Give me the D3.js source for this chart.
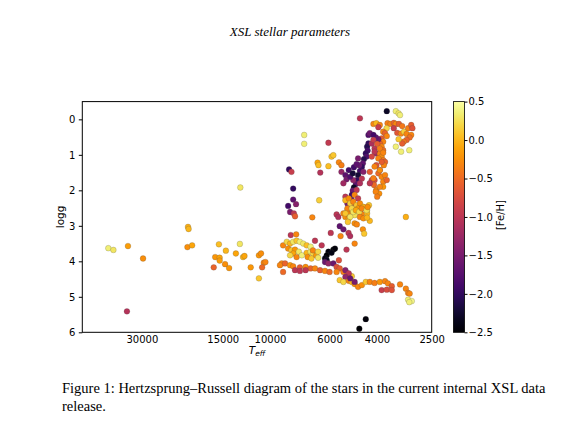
<!DOCTYPE html>
<html>
<head>
<meta charset="utf-8">
<script src="https://cdn.jsdelivr.net/npm/d3@7"></script>
<style>
  body { margin: 0; background: #fff; }
</style>
</head>
<body>
<div id="chart"></div>
<script>
// Tick labels
const xTickValues = [30000, 15000, 10000, 6000, 4000, 2500];
const yTickValues = [0, 1, 2, 3, 4, 5, 6];
const cbTickValues = [0.5, 0, -0.5, -1, -1.5, -2, -2.5];

// Stars as [Teff, logg, [Fe/H]]
const hotStars = [
  [40000, 3.63, 0.35], [38300, 3.68, 0.3], [33800, 3.57, -0.15], [29700, 3.92, -0.25], [34100, 5.41, -1.05],
  [20200, 3.03, -0.05], [20100, 3.09, 0.0], [20300, 3.6, -0.25], [19500, 3.55, -0.1], [12900, 1.92, 0.3],
  [15500, 3.52, 0.05], [16000, 3.88, -0.2], [15400, 3.9, -0.1], [15400, 3.98, -0.15], [14600, 3.7, 0.0],
  [16200, 4.17, -0.55], [14700, 4.08, -0.25], [14200, 4.19, -0.2], [13400, 3.78, -0.1], [12950, 3.51, 0.3],
  [12600, 3.88, 0.0], [12450, 3.85, -0.1], [11800, 4.17, -0.2], [11000, 3.83, -0.2], [10550, 4.04, -0.3],
  [10700, 4.17, -0.5], [11000, 4.48, 0.1], [10800, 3.78, -0.25], [10400, 4.02, -0.3]
];

const scatteredStars = [
  [8490, 1.41, -2.0], [8320, 1.48, -0.9], [8200, 1.95, -2.0], [8200, 2.26, -1.7], [8000, 2.39, -1.4],
  [8560, 2.44, -1.9], [8420, 2.61, -1.5], [8150, 2.65, -1.0], [8070, 2.73, -0.6],
  [7460, 0.44, 0.35], [7460, 0.69, 0.35], [6060, 0.66, -0.95], [6500, 1.5, -1.05], [5420, 1.48, -1.3],
  [5540, 1.21, -0.3], [5420, 1.29, -0.35], [5900, 1.05, 0.05], [5810, 1.01, 0.1], [6060, 1.32, 0.05],
  [6650, 1.22, -0.1], [6600, 1.29, 0.05], [6560, 2.28, 0.15], [6960, 2.76, -0.3], [4625, -0.03, -1.0],
  [3120, 2.75, -0.05], [8370, 3.26, -1.0], [7990, 3.24, -0.3], [6800, 3.42, -1.0], [6420, 3.55, -1.0],
  [5190, 3.67, -1.0], [5650, 2.68, -1.0], [5570, 2.75, -1.1], [5500, 3.01, -1.7], [5330, 3.1, -1.6],
  [5940, 3.2, -1.0], [5460, 3.29, -0.3], [5100, 3.2, -1.0], [5030, 3.29, -1.1], [4840, 3.5, -0.3],
  [4840, 2.93, -0.25], [4750, 2.96, -0.3], [4510, 3.1, -0.25], [4460, 3.22, 0.1], [4250, 2.86, 0.0],
  [4400, 5.63, -2.45], [4650, 5.9, -2.5]
];

const upperGiants = [
  [3675, -0.23, -2.3], [3400, -0.23, 0.35], [3320, -0.17, 0.3], [3280, -0.12, 0.35],
  [4120, 0.13, -0.3], [4020, 0.11, 0.0], [3900, 0.16, -0.3], [3950, 0.22, -0.9],
  [3650, 0.11, -0.35], [3560, 0.13, -0.3], [3460, 0.1, -0.55], [3400, 0.13, -0.3], [3310, 0.13, -0.6], [3220, 0.19, -0.4],
  [3680, 0.25, 0.2], [3460, 0.25, -0.9], [3360, 0.38, -0.65], [3250, 0.4, -0.3], [3170, 0.35, 0.15],
  [3100, 0.41, -0.3], [3060, 0.25, -0.35], [2980, 0.16, -0.6], [2950, 0.25, -0.7], [2980, 0.44, -0.3],
  [3020, 0.51, -0.45], [3100, 0.58, -0.55], [3180, 0.63, -0.4], [3220, 0.68, -0.6], [3320, 0.56, 0.1],
  [3400, 0.77, 0.35], [3250, 0.91, 0.35], [3030, 0.87, 0.35],
  [3790, 0.35, -0.3], [3730, 0.39, -0.55], [3675, 0.47, -0.3],
  [3840, 0.54, -0.6], [3790, 0.63, -0.3], [3900, 0.68, -0.55], [3840, 0.77, -0.3], [3790, 0.87, -0.45],
  [3950, 0.56, -1.6], [4035, 0.51, -1.7], [4300, 0.44, -1.8], [4250, 0.39, -1.6], [4120, 0.44, -1.9]
];

const metalPoorBranch = [
  [4300, 0.68, -2.0], [4350, 0.77, -2.1], [4330, 0.88, -1.9], [4400, 0.96, -2.0], [4370, 1.05, -1.8],
  [4470, 1.12, -2.1], [4510, 1.24, -1.7], [4550, 1.34, -2.0], [4625, 1.45, -1.9], [4700, 1.57, -2.2],
  [4655, 1.29, -1.6], [4490, 1.48, -1.4], [4750, 1.71, -2.0], [4790, 1.82, -1.7], [4870, 1.92, -2.3],
  [4920, 2.01, -1.6], [4960, 2.13, -1.9], [4900, 1.71, -1.3],
  [5240, 1.57, -1.7], [5190, 1.69, -1.5], [5330, 1.8, -1.2], [5090, 1.43, -1.9], [5030, 1.62, -1.8],
  [4920, 1.52, -2.2], [4870, 1.35, -1.9], [4760, 1.26, -1.7], [4700, 1.1, -1.5],
  [4180, 0.68, -1.1], [4080, 0.82, -1.0], [4020, 0.96, -1.2], [4550, 1.67, -1.0], [4625, 1.8, -1.1]
];

const giantBranch = [
  [3900, 0.96, -0.3], [3840, 1.05, -0.25], [3790, 1.15, -0.4], [3730, 1.2, -0.55], [3770, 1.29, -0.3],
  [4020, 1.29, -0.7], [3900, 1.43, -0.9], [3950, 1.52, -0.5], [3840, 1.62, -0.3], [4080, 1.71, -0.75],
  [4250, 1.48, -0.6], [4180, 1.71, -0.8], [4100, 1.85, -0.5], [4020, 1.99, -0.3], [3920, 2.09, -0.25],
  [3790, 1.76, -0.3], [3790, 1.9, -0.2], [4040, 2.04, -0.3], [3990, 2.18, -0.35],
  [4760, 1.99, -1.0], [4840, 2.13, -0.3], [4700, 2.23, -0.9], [4960, 2.28, -1.6], [4900, 2.37, -0.3],
  [5000, 2.47, -0.9], [5150, 2.56, 0.1], [5090, 2.65, -0.25], [4960, 2.56, -0.3], [5240, 2.18, -1.0],
  [5150, 2.37, -1.5], [4760, 2.47, -0.6], [4625, 2.61, -0.5], [4490, 2.47, -0.3], [4350, 2.56, 0.15],
  [4280, 2.42, 0.1], [5330, 2.65, -0.3], [5240, 2.75, -0.25],
  [4120, 0.58, -0.9], [3990, 0.69, -0.6], [3900, 0.82, -0.35], [3790, 0.94, -0.3], [4080, 0.91, -1.0],
  [4180, 1.05, -0.8], [3950, 1.1, -0.3], [3840, 1.2, -0.6], [4080, 1.33, -0.3], [3900, 1.43, -0.25],
  [3730, 1.57, -0.3], [3675, 1.71, -0.55], [4120, 1.66, -0.35], [4250, 1.8, -1.0], [3900, 1.9, -0.3]
];

const redClump = [
  [5240, 2.28, 0.0], [5090, 2.23, -0.25], [5030, 2.37, 0.15], [4900, 2.32, -0.3], [4760, 2.42, 0.1],
  [4625, 2.37, -0.25], [4490, 2.47, 0.0], [5150, 2.51, -0.3], [4960, 2.51, 0.2], [4700, 2.51, -0.2],
  [4840, 2.7, 0.25], [4550, 2.67, -0.3], [4350, 2.65, 0.0], [5240, 2.65, 0.1], [5090, 2.79, -0.2],
  [4900, 2.61, 0.3], [4790, 2.56, -0.1], [4655, 2.61, 0.2], [4550, 2.51, -0.3], [4370, 2.56, 0.25],
  [4330, 2.47, -0.25], [4625, 2.75, -0.3], [4490, 2.79, -0.25], [4350, 2.77, 0.0],
  [5030, 2.75, 0.3], [5130, 2.89, 0.1]
];

const turnoffStars = [
  [8940, 3.55, -0.3], [8660, 3.45, 0.2], [8420, 3.5, 0.0], [8200, 3.45, 0.3], [7960, 3.42, 0.1], [7740, 3.45, 0.35],
  [8560, 3.64, -0.25], [8320, 3.69, 0.1], [8070, 3.67, -0.2], [7810, 3.73, 0.3], [8200, 3.78, -0.1],
  [8420, 3.83, 0.2], [7960, 3.88, -0.3], [7610, 3.83, 0.35], [7300, 3.76, 0.0], [7060, 3.73, 0.3],
  [6920, 3.78, 0.2], [7240, 3.88, -0.25], [7010, 3.92, 0.1], [6730, 3.83, -0.2], [6620, 3.9, 0.3],
  [7520, 3.5, 0.3], [7300, 3.55, 0.05], [7060, 3.59, 0.35], [6920, 3.69, -0.3], [6620, 3.73, 0.2],
  [6060, 3.73, -2.45], [6150, 3.83, -2.5], [6240, 3.92, -2.4], [5810, 3.67, -2.5], [5730, 3.64, -2.45],
  [5900, 3.76, -2.4], [6150, 3.97, -2.35],
  [6240, 4.02, -1.6], [6060, 4.06, -1.3], [5810, 4.06, -1.6], [5540, 3.97, -0.7], [5650, 4.16, -0.7], [5500, 4.2, -0.6],
  [9040, 4.06, -0.3], [8940, 4.3, -0.5]
];

const mainSequence = [
  [9180, 4.11, -0.3], [8790, 4.06, -0.55], [8420, 4.11, -0.2], [8200, 4.14, -0.3], [7740, 4.17, -0.6],
  [7370, 4.16, -0.25], [7060, 4.2, -0.55], [6800, 4.2, -0.3], [6510, 4.25, -0.6], [6240, 4.27, -0.3],
  [6000, 4.3, -0.5], [5650, 4.3, -0.3], [8070, 4.25, -1.0], [7740, 4.27, -1.0], [7370, 4.25, -1.0],
  [5330, 4.3, -0.35], [5150, 4.34, -0.6], [4960, 4.42, 0.1],
  [5240, 4.25, -1.4], [5090, 4.34, -1.0], [5240, 4.44, -1.3],
  [5500, 4.53, 0.1], [5330, 4.58, 0.2], [5090, 4.55, -0.3], [4960, 4.58, 0.0], [4840, 4.64, -0.25],
  [4700, 4.72, -0.3], [4550, 4.67, -0.25], [4400, 4.58, 0.1], [4250, 4.58, -0.3], [4080, 4.61, -0.35],
  [3900, 4.58, -0.2], [3730, 4.56, -0.3], [3640, 4.62, -0.3], [3520, 4.7, -0.6], [3280, 4.65, -0.3],
  [3120, 4.77, -0.3], [3060, 4.89, -0.35], [3020, 4.91, -0.3],
  [3840, 4.81, -0.9], [3675, 4.8, -0.75], [3520, 4.81, -0.7], [5030, 4.48, -1.6], [4840, 4.58, -1.5],
  [3060, 5.08, 0.35], [2965, 5.12, 0.4], [3030, 5.15, 0.35]
];

const stars = [].concat(hotStars, scatteredStars, upperGiants, metalPoorBranch, giantBranch, redClump, turnoffStars, mainSequence);

const width = 581, height = 430;
const plot = { left: 82.3, right: 431.7, top: 101.6, bottom: 332.3 };
const cbar = { left: 453.5, right: 464.5 };

const svg = d3.select("#chart").append("svg")
  .attr("width", width)
  .attr("height", height)
  .style("font-family", "'DejaVu Sans', sans-serif");

const x = d3.scaleLog().domain([50000, 2500]).range([plot.left, plot.right]);
const y = d3.scaleLinear().domain([-0.5, 6]).range([plot.top, plot.bottom]);
const color = d3.scaleSequential(d3.interpolateInferno).domain([-2.5, 0.5]);
const cbScale = d3.scaleLinear().domain([-2.5, 0.5]).range([plot.bottom, plot.top]);

// Page title
svg.append("text")
  .attr("x", 290).attr("y", 36)
  .attr("text-anchor", "middle")
  .attr("font-family", "'Liberation Serif', serif")
  .attr("font-style", "italic")
  .attr("font-size", 13)
  .text("XSL stellar parameters");

// Points
svg.append("g")
  .selectAll("circle")
  .data(stars)
  .join("circle")
  .attr("cx", d => x(d[0]))
  .attr("cy", d => y(d[1]))
  .attr("r", 2.9)
  .attr("fill", d => color(d[2]))
  .attr("stroke", "#444")
  .attr("stroke-opacity", 0.6)
  .attr("stroke-width", 0.35);

// Frame
svg.append("rect")
  .attr("x", plot.left).attr("y", plot.top)
  .attr("width", plot.right - plot.left)
  .attr("height", plot.bottom - plot.top)
  .attr("fill", "none")
  .attr("stroke", "#000")
  .attr("stroke-width", 1);

// Y axis
const yAxis = svg.append("g")
  .attr("transform", `translate(${plot.left},0)`)
  .call(d3.axisLeft(y).tickValues(yTickValues).tickSize(3.5).tickPadding(3.5).tickFormat(d3.format("d")));
yAxis.select(".domain").remove();
yAxis.selectAll("text").attr("font-size", 10).attr("font-family", "'DejaVu Sans', sans-serif").attr("fill", "#000");

// X axis (labels only)
const xAxis = svg.append("g")
  .attr("transform", `translate(0,${plot.bottom})`)
  .call(d3.axisBottom(x).tickValues(xTickValues).tickSize(0).tickPadding(3.5).tickFormat(d3.format("d")));
xAxis.select(".domain").remove();
xAxis.selectAll("text").attr("font-size", 10).attr("font-family", "'DejaVu Sans', sans-serif").attr("fill", "#000");

// Axis labels
svg.append("text")
  .attr("transform", `translate(64,${(plot.top + plot.bottom) / 2}) rotate(-90)`)
  .attr("text-anchor", "middle")
  .attr("font-size", 10.5)
  .text("logg");

const xLabel = svg.append("text")
  .attr("x", (plot.left + plot.right) / 2)
  .attr("y", 354)
  .attr("text-anchor", "middle")
  .attr("font-size", 10.5);
xLabel.append("tspan").attr("font-style", "italic").text("T");
xLabel.append("tspan").attr("font-style", "italic").attr("font-size", 7.5).attr("dy", 2).text("eff");

// Colorbar
const defs = svg.append("defs");
const grad = defs.append("linearGradient")
  .attr("id", "cbgrad")
  .attr("x1", 0).attr("y1", 1).attr("x2", 0).attr("y2", 0);
d3.range(0, 1.0001, 0.05).forEach(t => {
  grad.append("stop").attr("offset", t).attr("stop-color", d3.interpolateInferno(t));
});
svg.append("rect")
  .attr("x", cbar.left).attr("y", plot.top)
  .attr("width", cbar.right - cbar.left)
  .attr("height", plot.bottom - plot.top)
  .attr("fill", "url(#cbgrad)")
  .attr("stroke", "#000")
  .attr("stroke-width", 0.8);

const cbAxis = svg.append("g")
  .attr("transform", `translate(${cbar.right},0)`)
  .call(d3.axisRight(cbScale).tickValues(cbTickValues).tickSize(3).tickPadding(1)
    .tickFormat(d => d3.format(".1f")(d).replace("-", "\u2212")));
cbAxis.select(".domain").remove();
cbAxis.selectAll("text").attr("font-size", 10).attr("font-family", "'DejaVu Sans', sans-serif").attr("fill", "#000");

svg.append("text")
  .attr("transform", `translate(504,215) rotate(-90)`)
  .attr("text-anchor", "middle")
  .attr("font-size", 10)
  .text("[Fe/H]");

// Caption
const caption = svg.append("text")
  .attr("font-family", "'Liberation Serif', serif")
  .attr("font-size", 14.5)
  .attr("fill", "#000");
caption.append("tspan").attr("x", 62).attr("y", 393)
  .text("Figure 1: Hertzsprung\u2013Russell diagram of the stars in the current internal XSL data");
caption.append("tspan").attr("x", 62).attr("y", 411)
  .text("release.");
</script>
</body>
</html>
